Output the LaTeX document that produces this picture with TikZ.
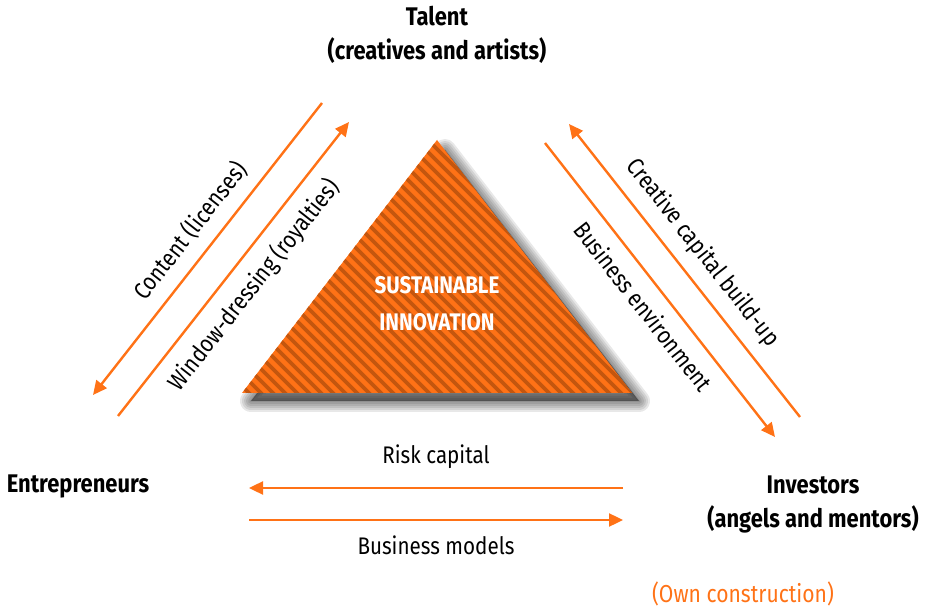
\documentclass[tikz,border=0pt]{standalone}
\usepackage{fontspec}
\setmainfont{Fira Sans}[FakeStretch=0.86]
\usetikzlibrary{positioning, arrows.meta}
\definecolor{flowor}{RGB}{255,114,22}
\definecolor{stripeor}{RGB}{196,86,14}

\begin{document}
\begin{tikzpicture}[x=1pt, y=1pt,
    actor/.style={font=\fontsize{25.5}{34}\selectfont\bfseries, align=center, inner sep=0pt},
    lab/.style={font=\fontsize{24}{28}\selectfont, text=black, inner sep=2pt},
    edge/.style={-{Triangle[length=14pt, width=13pt]}, line width=2.4pt, color=flowor},
    core/.style={font=\fontsize{24}{37}\selectfont\bfseries, text=white, align=center}
]
\useasboundingbox (0,0) rectangle (932,-609);

% the actors
\node[actor] (Tal) at (437,-35) {Talent\\(creatives and artists)};
\node[actor] (Ent) at (78,-486) {Entrepreneurs};
\node[actor] (Inv) at (813,-504) {Investors\\(angels and mentors)};
\node[font=\fontsize{24.5}{28}\selectfont, text=flowor, inner sep=0pt] (Src) at (743,-594) {(Own construction)};

% central triangle with shadow and stripes
\foreach \w in {22,18,14,10,6,2}
    \filldraw[black, opacity=0.09, line width=\w pt, line join=round]
        (445,-150) -- (639,-401) -- (251,-401) -- cycle;
\begin{scope}
    \clip (437,-140) -- (632,-393) -- (242,-393) -- cycle;
    \fill[flowor] (230,-130) rectangle (650,-400);
    \foreach \k in {-30,...,60}
        \draw[stripeor, line width=3.6pt] (\k*12,-120) -- ++(300,-300);
\end{scope}
\node[core] (Inn) at (437,-304) {SUSTAINABLE\\INNOVATION};

% end points of the flows
\coordinate (tA) at (322,-103);  \coordinate (eA) at (93,-395);
\coordinate (tB) at (118,-416);  \coordinate (eB) at (349,-122);
\coordinate (tC) at (800,-417);  \coordinate (eC) at (569,-124);
\coordinate (tD) at (545,-143);  \coordinate (eD) at (775,-437);
\coordinate (tE) at (623,-488);  \coordinate (eE) at (249,-488);
\coordinate (tF) at (249,-520);  \coordinate (eF) at (623,-520);

\draw[edge] (tA) -- node[lab, sloped, above=10pt, pos=0.49] (lA) {Content (licenses)} (eA);
\draw[edge] (tB) -- node[lab, sloped, below=10pt, pos=0.50] (lB) {Window-dressing (royalties)} (eB);
\draw[edge] (tC) -- node[lab, sloped, above=10pt, pos=0.507] (lC) {Creative capital build-up} (eC);
\draw[edge] (tD) -- node[lab, sloped, below=10pt, pos=0.507] (lD) {Business environment} (eD);
\draw[edge] (tE) -- node[lab, above=16pt] (lE) {Risk capital} (eE);
\draw[edge] (tF) -- node[lab, below=13pt] (lF) {Business models} (eF);
\end{tikzpicture}
\end{document}
